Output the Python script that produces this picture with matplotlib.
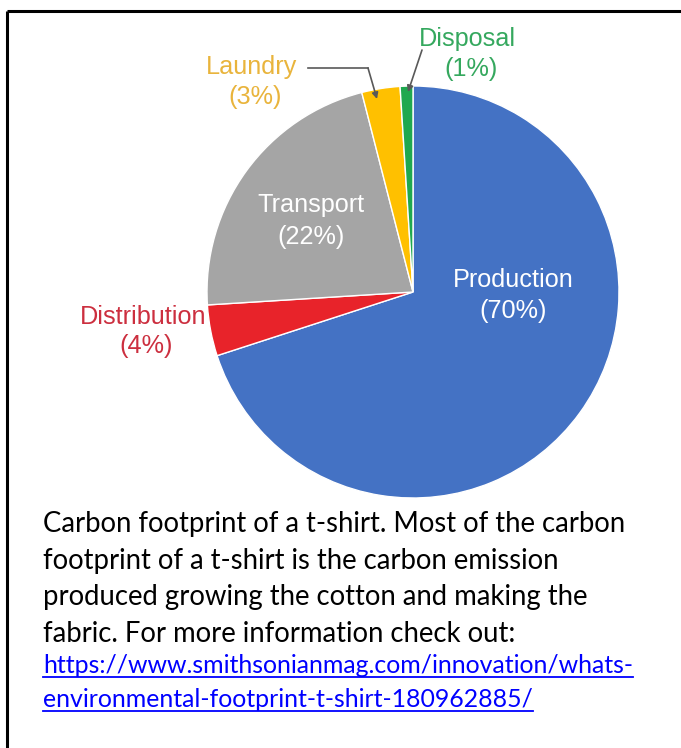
import matplotlib.pyplot as plt
from matplotlib.lines import Line2D

# chart data
categories = ["Production", "Distribution", "Transport", "Laundry", "Disposal"]
shares = [70, 4, 22, 3, 1]
wedge_colors = ["#4472C4", "#E8232A", "#A5A5A5", "#FFC000", "#1FA84F"]
label_colors = ["white", "#CC2F3F", "white", "#E9B43C", "#35A85E"]

caption_lines = [
    "Carbon footprint of a t-shirt. Most of the carbon",
    "footprint of a t-shirt is the carbon emission",
    "produced growing the cotton and making the",
    "fabric. For more information check out:",
]
link_lines = [
    "https://www.smithsonianmag.com/innovation/whats-",
    "environmental-footprint-t-shirt-180962885/",
]

W, H = 681, 748


def Y(py):
    # pixel row (from top) -> data y
    return H - py


fig = plt.figure(figsize=(W / 100, H / 100), dpi=100)
ax = fig.add_axes([0, 0, 1, 1])

ax.pie(shares, colors=wedge_colors, startangle=90, counterclock=False,
       center=(413, Y(292)), radius=206, frame=True,
       wedgeprops=dict(edgecolor="white", linewidth=1.0))
ax.set_xlim(0, W)
ax.set_ylim(0, H)
ax.set_aspect("auto")
ax.axis("off")

# label positions (pixel coords of text centre, one row per line)
label_pos = {
    "Production": ((513, 280), (513, 311)),
    "Distribution": ((143, 317), (146, 346)),
    "Transport": ((311, 205), (311, 237)),
    "Laundry": ((252, 67), (255, 97)),
    "Disposal": ((467, 39), (471, 69)),
}
lab_font = ["Liberation Sans", "DejaVu Sans"]
for name, share, col in zip(categories, shares, label_colors):
    (x1, y1), (x2, y2) = label_pos[name]
    ax.text(x1, Y(y1), name, ha="center", va="center", color=col,
            fontsize=18.2, family=lab_font)
    ax.text(x2, Y(y2), f"({share}%)", ha="center", va="center", color=col,
            fontsize=18.2, family=lab_font)

# leader lines
lead = "#595959"
ax.plot([308, 368], [Y(68), Y(68)], color=lead, lw=1.2)
ax.annotate("", xy=(377, Y(99)), xytext=(368, Y(68)),
            arrowprops=dict(arrowstyle="-|>", color=lead, lw=1.2,
                            mutation_scale=9, shrinkA=0, shrinkB=0))
ax.annotate("", xy=(408, Y(92)), xytext=(422, Y(50)),
            arrowprops=dict(arrowstyle="-|>", color=lead, lw=1.2,
                            mutation_scale=9, shrinkA=0, shrinkB=0))

# caption
body_font = ["Lato", "DejaVu Sans"]
for i, line in enumerate(caption_lines):
    ax.text(43, Y(532 + i * 36.7), line, ha="left", va="baseline",
            fontsize=19.8, family=body_font, color="black")

fig.canvas.draw()
renderer = fig.canvas.get_renderer()
inv = ax.transData.inverted()
for i, line in enumerate(link_lines):
    base = 673 + i * 34
    t = ax.text(43, Y(base), line, ha="left", va="baseline",
                fontsize=17.9, family=body_font, color="#0000FF")
    bb = t.get_window_extent(renderer=renderer)
    (x0, _), (x1, _) = inv.transform([(bb.x0, 0), (bb.x1, 0)])
    ax.add_line(Line2D([x0, x1], [Y(base + 4), Y(base + 4)],
                       color="#0000FF", lw=1.3))

# frame (top and left edges only)
ax.plot([7, W], [Y(11), Y(11)], color="black", lw=2.2, solid_capstyle="butt")
ax.plot([7, 7], [Y(11), 0], color="black", lw=2.2, solid_capstyle="butt")

fig.savefig("out.png", dpi=100, facecolor="white")
